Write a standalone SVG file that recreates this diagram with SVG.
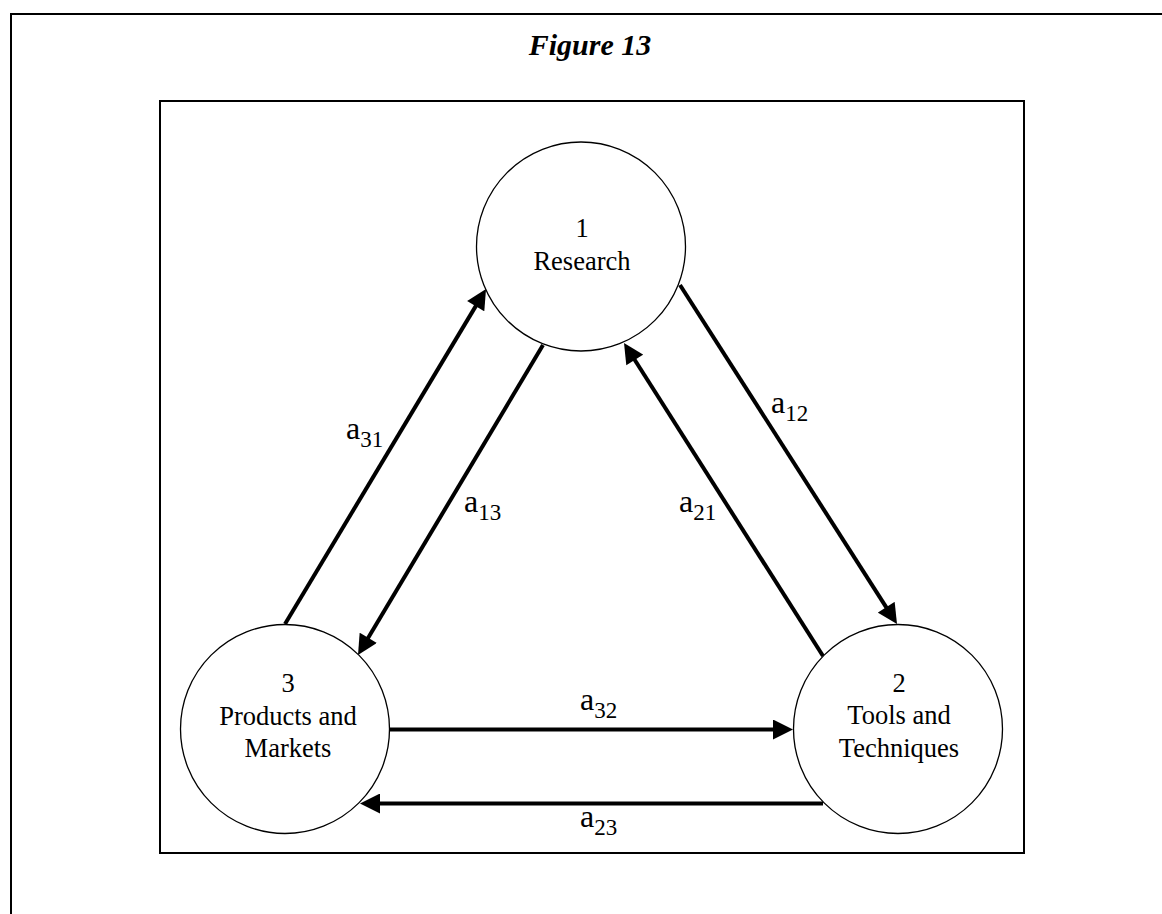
<svg xmlns="http://www.w3.org/2000/svg" width="1162" height="914" viewBox="0 0 1162 914">
  <style>
    .frame { fill: none; stroke: #000; stroke-width: 2; }
    .node circle { fill: #fff; stroke: #000; stroke-width: 1.3; }
    .node text { font-family: "Liberation Serif", "Times New Roman", serif; font-size: 26.5px; fill: #000; text-anchor: middle; }
    .edge { stroke: #000; stroke-width: 4; fill: none; marker-end: url(#head); }
    .lbl { font-family: "Liberation Serif", "Times New Roman", serif; font-size: 32px; fill: #000; }
    .lbl tspan.sub { font-size: 23px; }
    .title { font-family: "Liberation Serif", "Times New Roman", serif; font-size: 30px; font-weight: bold; font-style: italic; text-anchor: middle; }
  </style>
  <defs>
    <marker id="head" viewBox="0 0 20 20" refX="12" refY="10" markerWidth="21" markerHeight="20" markerUnits="userSpaceOnUse" orient="auto">
      <path d="M0,0 L20,10 L0,20 z" fill="#000"/>
    </marker>
  </defs>

  <rect width="1162" height="914" fill="#fff"/>

  <!-- page frame (continues past the right and bottom edges) -->
  <rect class="frame" x="11" y="14" width="1200" height="960"/>
  <text class="title" x="590" y="55">Figure 13</text>

  <!-- diagram box -->
  <rect class="frame" x="160" y="101" width="864" height="752"/>

  <!-- connectors -->
  <g id="connectors">
    <line class="edge" x1="680" y1="285" x2="892.7" y2="617.3"/>
    <line class="edge" x1="823" y1="656" x2="628.3" y2="349.8"/>
    <line class="edge" x1="285" y1="624" x2="481.9" y2="295.9"/>
    <line class="edge" x1="543" y1="345" x2="362.1" y2="648.1"/>
    <line class="edge" x1="389" y1="729.5" x2="785" y2="729.5"/>
    <line class="edge" x1="823" y1="803.5" x2="368" y2="803.5"/>

    <text class="lbl" x="771" y="413">a<tspan class="sub" dy="8">12</tspan></text>
    <text class="lbl" x="679" y="512">a<tspan class="sub" dy="8">21</tspan></text>
    <text class="lbl" x="346" y="439">a<tspan class="sub" dy="8">31</tspan></text>
    <text class="lbl" x="464" y="512">a<tspan class="sub" dy="8">13</tspan></text>
    <text class="lbl" x="580" y="710">a<tspan class="sub" dy="8">32</tspan></text>
    <text class="lbl" x="580" y="827">a<tspan class="sub" dy="8">23</tspan></text>
  </g>

  <!-- nodes -->
  <g id="node-1" class="node">
    <circle cx="581" cy="246.5" r="104.5"/>
    <text x="582" y="237">1</text>
    <text x="582" y="270">Research</text>
  </g>
  <g id="node-2" class="node">
    <circle cx="898" cy="729" r="104.5"/>
    <text x="899" y="692">2</text>
    <text x="899" y="724">Tools and</text>
    <text x="899" y="757">Techniques</text>
  </g>
  <g id="node-3" class="node">
    <circle cx="285" cy="729" r="104.5"/>
    <text x="288" y="692">3</text>
    <text x="288" y="725">Products and</text>
    <text x="288" y="757">Markets</text>
  </g>
</svg>
